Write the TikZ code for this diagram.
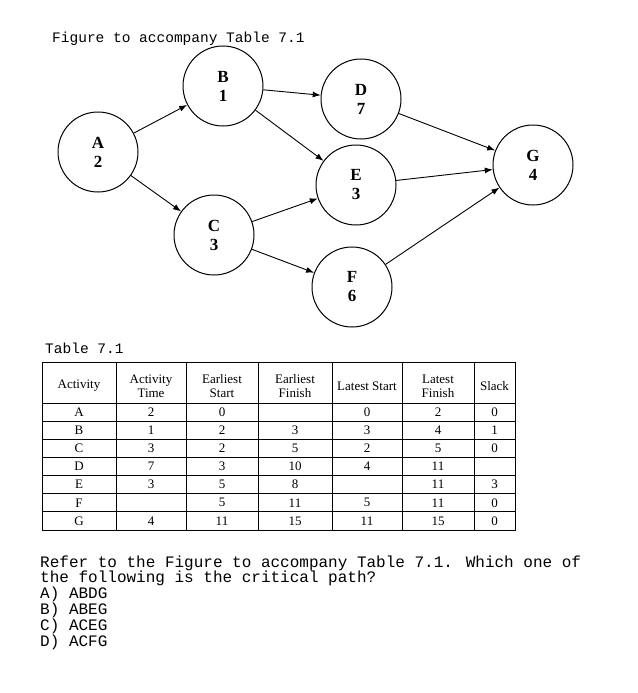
\documentclass[tikz,border=0pt]{standalone}
\usepackage{fontspec}
\usetikzlibrary{arrows.meta}
\setmainfont{Liberation Serif}
\newfontfamily\mono{Liberation Mono}
\begin{document}
\begin{tikzpicture}[x=1pt,y=-1pt,
  ev/.style={circle,draw,line width=1pt,minimum size=80pt,inner sep=0pt,align=center,font=\fontsize{17}{19}\selectfont\bfseries},
  arr/.style={-{Latex[length=8pt,width=6pt]},line width=0.9pt},
  tt/.style={anchor=west,inner sep=0pt,font=\mono\fontsize{16}{16}\selectfont},
  cell/.style={inner sep=0pt,font=\fontsize{13}{14}\selectfont,align=center}]
\useasboundingbox (0,0) rectangle (637,693);
\node[tt,font=\mono\fontsize{14.5}{15}\selectfont] (t1) at (52,39) {Figure to accompany Table 7.1};
\node[ev] (A) at (98,152) {A\\2};
\node[ev] (B) at (223,86) {B\\1};
\node[ev] (D) at (361,99) {D\\7};
\node[ev] (E) at (356,185) {E\\3};
\node[ev] (C) at (214,235) {C\\3};
\node[ev] (F) at (352,287) {F\\6};
\node[ev] (G) at (533,165) {G\\4};
\draw[arr] (A) -- (B); \draw[arr] (A) -- (C);
\draw[arr] (B) -- (D); \draw[arr] (B) -- (E);
\draw[arr] (C) -- (E); \draw[arr] (C) -- (F);
\draw[arr] (D) -- (G); \draw[arr] (E) -- (G); \draw[arr] (F) -- (G);
\node[tt,font=\mono\fontsize{14.5}{15}\selectfont] (t2) at (45,348) {Table 7.1};
\def\xs{{42,116,186,258,332,402,474,515}}
\draw[line width=1pt] (42,362) rectangle (515,530);
\foreach \x in {116,186,258,332,402,474} \draw[line width=0.8pt] (\x,362) -- (\x,530);
\draw[line width=0.8pt] (42,403) -- (515,403);
\foreach \i in {1,...,6} \draw[line width=0.8pt] (42,403+\i*18.14) -- (515,403+\i*18.14);
\foreach \t [count=\i] in {{Activity},{Activity\\Time},{Earliest\\Start},{Earliest\\Finish},{Latest Start},{Latest\\Finish},{Slack}} {
  \pgfmathsetmacro\xl{\xs[\i-1]}\pgfmathsetmacro\xr{\xs[\i]}
  \node[cell] (h\i) at ({(\xl+\xr)/2},386) {\t};
}
\foreach \r [count=\j] in {{A,2,0,,0,2,0},{B,1,2,3,3,4,1},{C,3,2,5,2,5,0},{D,7,3,10,4,11,},{E,3,5,8,,11,3},{F,,5,11,5,11,0},{G,4,11,15,11,15,0}} {
  \foreach \v [count=\i] in \r {
    \pgfmathsetmacro\xl{\xs[\i-1]}\pgfmathsetmacro\xr{\xs[\i]}
    \node[cell] (c\j-\i) at ({(\xl+\xr)/2},{403+(\j-0.5)*18.14}) {\v};
  }
}
\node[tt] (q1) at (40,563) {Refer to the Figure to accompany Table 7.1. Which one of};
\node[tt] (q2) at (40,578) {the following is the critical path?};
\node[tt] (o1) at (40,594) {A) ABDG};
\node[tt] (o2) at (40,610) {B) ABEG};
\node[tt] (o3) at (40,626) {C) ACEG};
\node[tt] (o4) at (40,642) {D) ACFG};
\end{tikzpicture}
\end{document}
